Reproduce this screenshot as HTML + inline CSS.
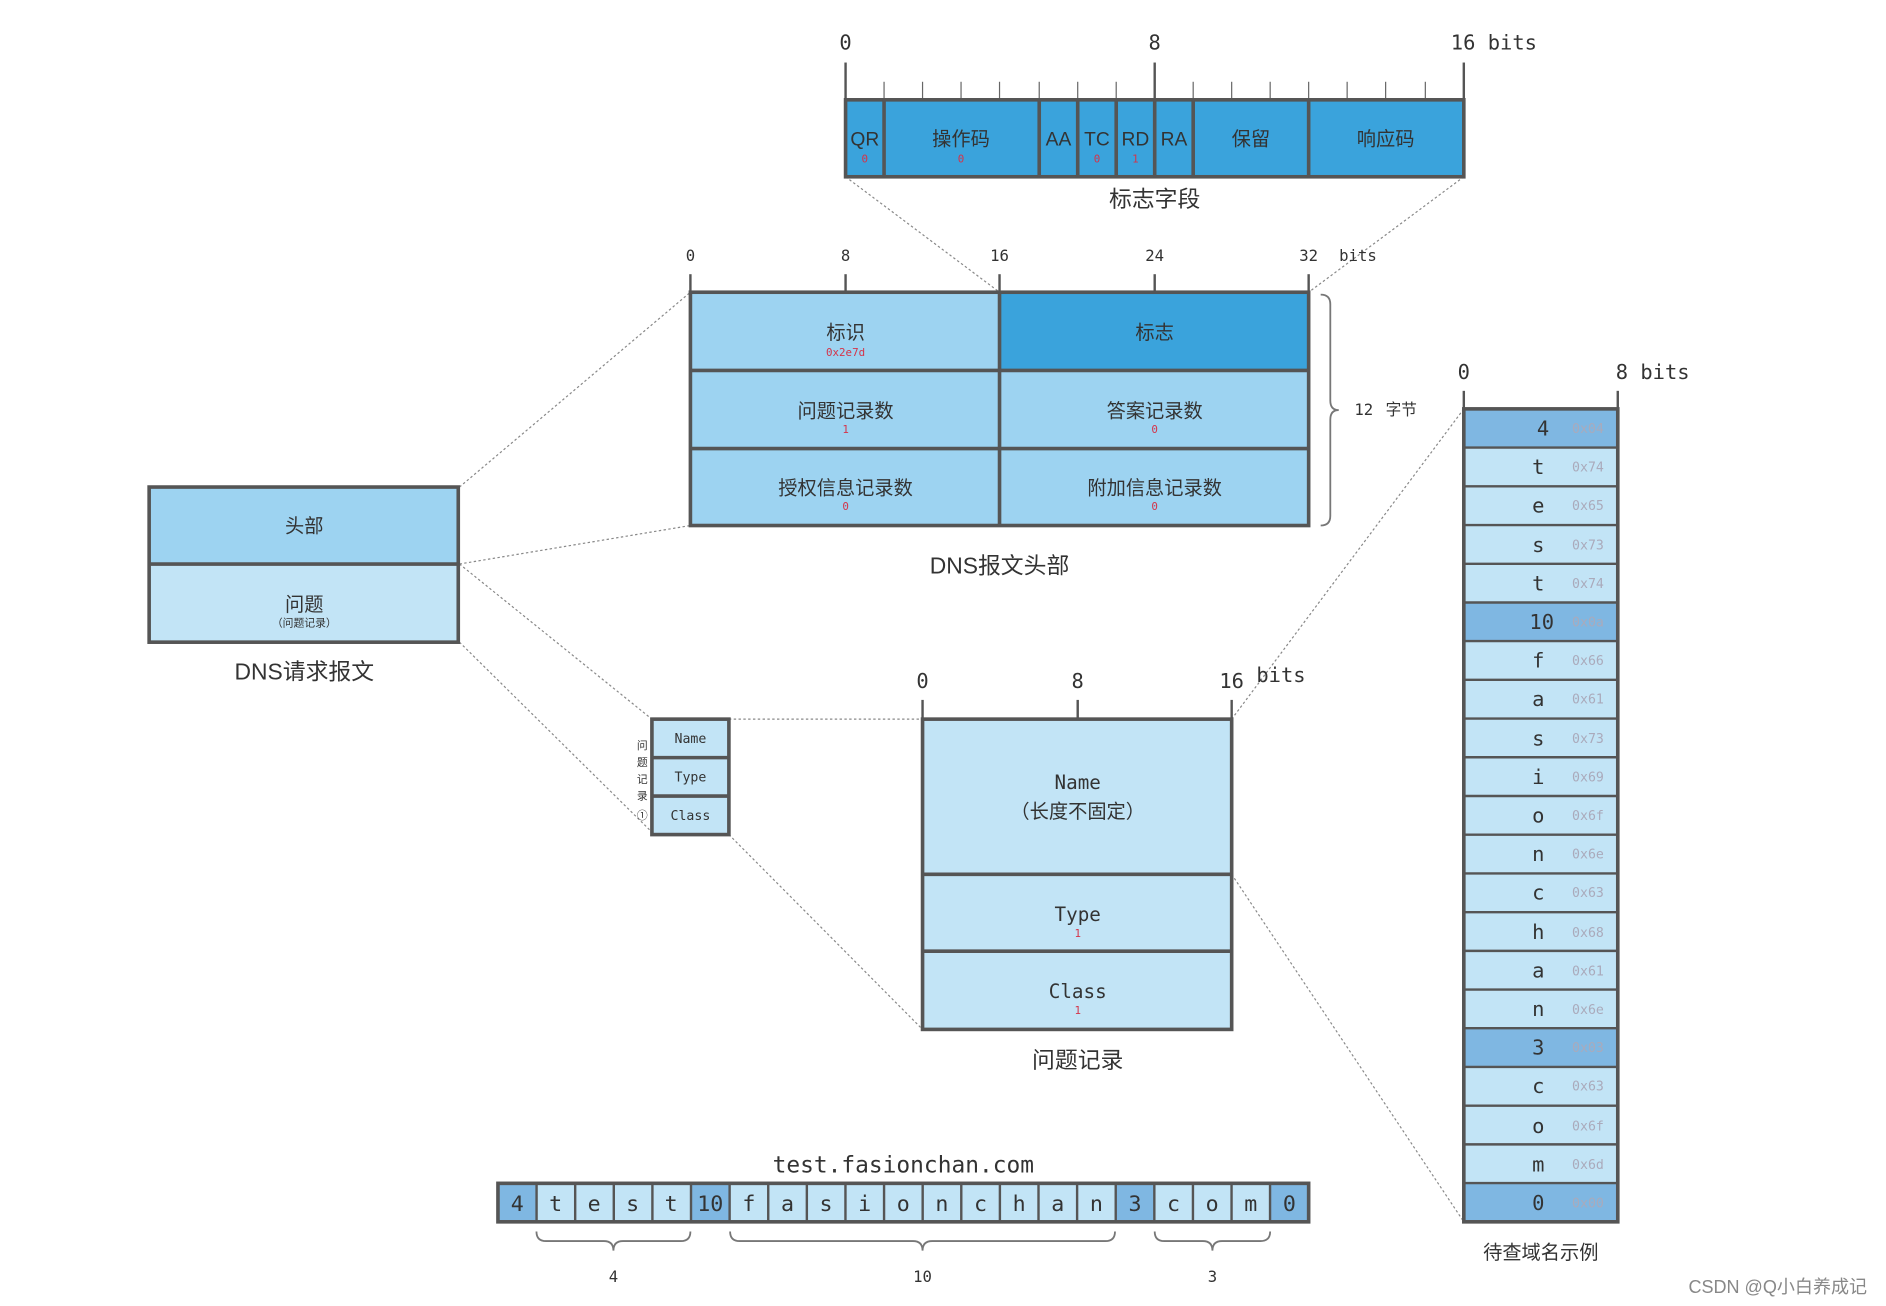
<!DOCTYPE html>
<html><head><meta charset="utf-8"><style>
html,body{margin:0;padding:0;background:#fff;}
svg{display:block;}
text{font-family:"DejaVu Sans Mono","Liberation Mono","Noto Sans CJK SC",monospace;fill:#333;}
.cj{font-family:"Liberation Sans","Noto Sans CJK SC",sans-serif;}
.red{fill:#d4344a;font-size:9px;}
.hx{fill:#aab;font-size:11px;}
.dot{stroke:#888;stroke-width:1;stroke-dasharray:2 2;fill:none;}
.bx{stroke:#555;stroke-width:3;}
.tk{stroke:#555;stroke-width:2;}
.st{stroke:#666;stroke-width:1;}
</style></head><body>
<svg width="1886" height="1306" viewBox="0 0 1568 1086" preserveAspectRatio="none" xmlns="http://www.w3.org/2000/svg">
<line class="dot" x1="703" y1="147" x2="831" y2="243"/>
<line class="dot" x1="1217" y1="147" x2="1088" y2="243"/>
<line class="dot" x1="382" y1="405" x2="574" y2="243"/>
<line class="dot" x1="382" y1="469" x2="574" y2="437"/>
<line class="dot" x1="382" y1="469" x2="542" y2="598"/>
<line class="dot" x1="382" y1="534" x2="540" y2="690"/>
<line class="dot" x1="606" y1="598" x2="767" y2="598"/>
<line class="dot" x1="606" y1="694" x2="767" y2="856"/>
<line class="dot" x1="1024" y1="598" x2="1217" y2="340"/>
<line class="dot" x1="1024" y1="727" x2="1217" y2="1016"/>

<g font-size="17" text-anchor="middle">
<text x="703" y="41">0</text><text x="960" y="41">8</text><text x="1242" y="41">16 bits</text>
</g>
<line class="tk" x1="703" y1="52" x2="703" y2="83"/><line class="tk" x1="960" y1="52" x2="960" y2="83"/><line class="tk" x1="1217" y1="52" x2="1217" y2="83"/>
<g class="st">
<line x1="735" y1="68" x2="735" y2="83"/><line x1="767" y1="68" x2="767" y2="83"/><line x1="799" y1="68" x2="799" y2="83"/><line x1="831" y1="68" x2="831" y2="83"/><line x1="864" y1="68" x2="864" y2="83"/><line x1="896" y1="68" x2="896" y2="83"/><line x1="928" y1="68" x2="928" y2="83"/><line x1="992" y1="68" x2="992" y2="83"/><line x1="1024" y1="68" x2="1024" y2="83"/><line x1="1056" y1="68" x2="1056" y2="83"/><line x1="1088" y1="68" x2="1088" y2="83"/><line x1="1120" y1="68" x2="1120" y2="83"/><line x1="1152" y1="68" x2="1152" y2="83"/><line x1="1185" y1="68" x2="1185" y2="83"/>
</g>
<rect class="bx" x="703" y="83" width="514" height="64" fill="#3aa3dc"/>
<g class="bx"><line x1="735" y1="83" x2="735" y2="147"/><line x1="864" y1="83" x2="864" y2="147"/><line x1="896" y1="83" x2="896" y2="147"/><line x1="928" y1="83" x2="928" y2="147"/><line x1="960" y1="83" x2="960" y2="147"/><line x1="992" y1="83" x2="992" y2="147"/><line x1="1088" y1="83" x2="1088" y2="147"/></g>
<g class="cj" font-size="16" text-anchor="middle">
<text class="cj" x="719" y="121">QR</text><text class="cj" x="799" y="121">操作码</text><text class="cj" x="880" y="121">AA</text><text class="cj" x="912" y="121">TC</text><text class="cj" x="944" y="121">RD</text><text class="cj" x="976" y="121">RA</text><text class="cj" x="1040" y="121">保留</text><text class="cj" x="1152" y="121">响应码</text>
<text class="cj" x="960" y="172" font-size="19">标志字段</text>
</g>
<g text-anchor="middle"><text class="red" x="719" y="135">0</text><text class="red" x="799" y="135">0</text><text class="red" x="912" y="135">0</text><text class="red" x="944" y="135">1</text></g>

<g font-size="13" text-anchor="middle">
<text x="574" y="217">0</text><text x="703" y="217">8</text><text x="831" y="217">16</text><text x="960" y="217">24</text><text x="1088" y="217">32</text><text x="1129" y="217">bits</text>
</g>
<g class="tk"><line x1="574" y1="228" x2="574" y2="243"/><line x1="703" y1="228" x2="703" y2="243"/><line x1="831" y1="228" x2="831" y2="243"/><line x1="960" y1="228" x2="960" y2="243"/><line x1="1088" y1="228" x2="1088" y2="243"/></g>
<rect x="574" y="243" width="514" height="194" fill="#9dd3f1"/>
<rect x="831" y="243" width="257" height="65" fill="#3aa3dc"/>
<g class="bx" fill="none"><rect x="574" y="243" width="514" height="194"/><line x1="574" y1="308" x2="1088" y2="308"/><line x1="574" y1="373" x2="1088" y2="373"/><line x1="831" y1="243" x2="831" y2="437"/></g>
<g font-size="16" text-anchor="middle">
<text class="cj" x="703" y="282">标识</text><text class="cj" x="960" y="282">标志</text>
<text class="cj" x="703" y="347">问题记录数</text><text class="cj" x="960" y="347">答案记录数</text>
<text class="cj" x="703" y="411">授权信息记录数</text><text class="cj" x="960" y="411">附加信息记录数</text>
<text class="cj" x="831" y="477" font-size="19">DNS报文头部</text>
</g>
<g text-anchor="middle"><text class="red" x="703" y="296">0x2e7d</text><text class="red" x="703" y="360">1</text><text class="red" x="960" y="360">0</text><text class="red" x="703" y="424">0</text><text class="red" x="960" y="424">0</text></g>
<path d="M1098 245 Q1106 245 1106 253 L1106 333 Q1106 341 1113 341 Q1106 341 1106 349 L1106 429 Q1106 437 1098 437" fill="none" stroke="#777" stroke-width="1.5"/>
<text x="1126" y="345" font-size="13">12</text><text class="cj" x="1152" y="345" font-size="13">字节</text>

<rect x="124" y="405" width="257" height="64" fill="#9dd3f1"/>
<rect x="124" y="469" width="257" height="65" fill="#c2e4f6"/>
<g class="bx" fill="none"><rect x="124" y="405" width="257" height="129"/><line x1="124" y1="469" x2="381" y2="469"/></g>
<g text-anchor="middle"><text class="cj" x="253" y="443" font-size="16">头部</text><text class="cj" x="253" y="508" font-size="16">问题</text><text class="cj" x="253" y="521" font-size="9">（问题记录）</text><text class="cj" x="253" y="565" font-size="19">DNS请求报文</text></g>

<rect x="542" y="598" width="64" height="96" fill="#c2e4f6"/>
<g class="bx" fill="none" stroke-width="2.5"><rect x="542" y="598" width="64" height="96"/><line x1="542" y1="630" x2="606" y2="630"/><line x1="542" y1="662" x2="606" y2="662"/></g>
<g font-size="11" text-anchor="middle"><text x="574" y="618">Name</text><text x="574" y="650">Type</text><text x="574" y="682">Class</text></g>
<g font-size="9" text-anchor="middle"><text class="cj" x="534" y="623">问</text><text class="cj" x="534" y="637">题</text><text class="cj" x="534" y="651">记</text><text class="cj" x="534" y="665">录</text><text class="cj" x="534" y="681">①</text></g>

<g font-size="17" text-anchor="middle"><text x="767" y="572">0</text><text x="896" y="572">8</text><text x="1024" y="572">16</text><text x="1065" y="567">bits</text></g>
<g class="tk"><line x1="767" y1="582" x2="767" y2="598"/><line x1="896" y1="582" x2="896" y2="598"/><line x1="1024" y1="582" x2="1024" y2="598"/></g>
<rect x="767" y="598" width="257" height="258" fill="#c2e4f6"/>
<g class="bx" fill="none"><rect x="767" y="598" width="257" height="258"/><line x1="767" y1="727" x2="1024" y2="727"/><line x1="767" y1="791" x2="1024" y2="791"/></g>
<g font-size="16" text-anchor="middle"><text x="896" y="656">Name</text><text class="cj" x="896" y="680">（长度不固定）</text><text x="896" y="766">Type</text><text x="896" y="830">Class</text><text class="cj" x="896" y="888" font-size="19">问题记录</text></g>
<g text-anchor="middle"><text class="red" x="896" y="779">1</text><text class="red" x="896" y="843">1</text></g>

<g font-size="17" text-anchor="middle"><text x="1217" y="315">0</text><text x="1374" y="315">8 bits</text></g>
<g class="tk"><line x1="1217" y1="325" x2="1217" y2="340"/><line x1="1345" y1="325" x2="1345" y2="340"/></g>
<rect x="1217" y="340" width="128" height="676" fill="#c2e4f6"/>
<g fill="#7fb7e2"><rect x="1217" y="340" width="128" height="32.2"/><rect x="1217" y="501" width="128" height="32.2"/><rect x="1217" y="855" width="128" height="32.2"/><rect x="1217" y="983.8" width="128" height="32.2"/></g>
<g stroke="#555" stroke-width="2"><line x1="1217" y1="372.2" x2="1345" y2="372.2"/><line x1="1217" y1="404.4" x2="1345" y2="404.4"/><line x1="1217" y1="436.6" x2="1345" y2="436.6"/><line x1="1217" y1="468.8" x2="1345" y2="468.8"/><line x1="1217" y1="501" x2="1345" y2="501"/><line x1="1217" y1="533.1" x2="1345" y2="533.1"/><line x1="1217" y1="565.3" x2="1345" y2="565.3"/><line x1="1217" y1="597.5" x2="1345" y2="597.5"/><line x1="1217" y1="629.7" x2="1345" y2="629.7"/><line x1="1217" y1="661.9" x2="1345" y2="661.9"/><line x1="1217" y1="694.1" x2="1345" y2="694.1"/><line x1="1217" y1="726.3" x2="1345" y2="726.3"/><line x1="1217" y1="758.5" x2="1345" y2="758.5"/><line x1="1217" y1="790.7" x2="1345" y2="790.7"/><line x1="1217" y1="822.9" x2="1345" y2="822.9"/><line x1="1217" y1="855" x2="1345" y2="855"/><line x1="1217" y1="887.2" x2="1345" y2="887.2"/><line x1="1217" y1="919.4" x2="1345" y2="919.4"/><line x1="1217" y1="951.6" x2="1345" y2="951.6"/><line x1="1217" y1="983.8" x2="1345" y2="983.8"/></g>
<rect class="bx" x="1217" y="340" width="128" height="676" fill="none"/>
<g font-size="17" text-anchor="end">
<text x="1288" y="362">4</text><text x="1284" y="394">t</text><text x="1284" y="426">e</text><text x="1284" y="459">s</text><text x="1284" y="491">t</text><text x="1292" y="523">10</text><text x="1284" y="555">f</text><text x="1284" y="587">a</text><text x="1284" y="620">s</text><text x="1284" y="652">i</text><text x="1284" y="684">o</text><text x="1284" y="716">n</text><text x="1284" y="748">c</text><text x="1284" y="781">h</text><text x="1284" y="813">a</text><text x="1284" y="845">n</text><text x="1284" y="877">3</text><text x="1284" y="909">c</text><text x="1284" y="942">o</text><text x="1284" y="974">m</text><text x="1284" y="1006">0</text>
</g>
<g class="hx">
<text class="hx" x="1307" y="360">0x04</text><text class="hx" x="1307" y="392">0x74</text><text class="hx" x="1307" y="424">0x65</text><text class="hx" x="1307" y="457">0x73</text><text class="hx" x="1307" y="489">0x74</text><text class="hx" x="1307" y="521">0x0a</text><text class="hx" x="1307" y="553">0x66</text><text class="hx" x="1307" y="585">0x61</text><text class="hx" x="1307" y="618">0x73</text><text class="hx" x="1307" y="650">0x69</text><text class="hx" x="1307" y="682">0x6f</text><text class="hx" x="1307" y="714">0x6e</text><text class="hx" x="1307" y="746">0x63</text><text class="hx" x="1307" y="779">0x68</text><text class="hx" x="1307" y="811">0x61</text><text class="hx" x="1307" y="843">0x6e</text><text class="hx" x="1307" y="875">0x03</text><text class="hx" x="1307" y="907">0x63</text><text class="hx" x="1307" y="940">0x6f</text><text class="hx" x="1307" y="972">0x6d</text><text class="hx" x="1307" y="1004">0x00</text>
</g>
<text class="cj" x="1281" y="1047" font-size="16" text-anchor="middle">待查域名示例</text>

<text x="751" y="975" font-size="19" text-anchor="middle">test.fasionchan.com</text>
<rect x="414" y="984" width="674" height="32" fill="#c2e4f6"/>
<g fill="#7fb7e2"><rect x="414" y="984" width="32.1" height="32"/><rect x="574.5" y="984" width="32.1" height="32"/><rect x="927.6" y="984" width="32.1" height="32"/><rect x="1055.9" y="984" width="32.1" height="32"/></g>
<g stroke="#555" stroke-width="2"><line x1="446.1" y1="984" x2="446.1" y2="1016"/><line x1="478.2" y1="984" x2="478.2" y2="1016"/><line x1="510.3" y1="984" x2="510.3" y2="1016"/><line x1="542.4" y1="984" x2="542.4" y2="1016"/><line x1="574.5" y1="984" x2="574.5" y2="1016"/><line x1="606.6" y1="984" x2="606.6" y2="1016"/><line x1="638.7" y1="984" x2="638.7" y2="1016"/><line x1="670.8" y1="984" x2="670.8" y2="1016"/><line x1="702.9" y1="984" x2="702.9" y2="1016"/><line x1="735" y1="984" x2="735" y2="1016"/><line x1="767.1" y1="984" x2="767.1" y2="1016"/><line x1="799.2" y1="984" x2="799.2" y2="1016"/><line x1="831.3" y1="984" x2="831.3" y2="1016"/><line x1="863.4" y1="984" x2="863.4" y2="1016"/><line x1="895.5" y1="984" x2="895.5" y2="1016"/><line x1="927.6" y1="984" x2="927.6" y2="1016"/><line x1="959.7" y1="984" x2="959.7" y2="1016"/><line x1="991.8" y1="984" x2="991.8" y2="1016"/><line x1="1023.9" y1="984" x2="1023.9" y2="1016"/><line x1="1055.9" y1="984" x2="1055.9" y2="1016"/></g>
<rect class="bx" x="414" y="984" width="674" height="32" fill="none"/>
<g font-size="18" text-anchor="middle">
<text x="430" y="1007">4</text><text x="462" y="1007">t</text><text x="494" y="1007">e</text><text x="526" y="1007">s</text><text x="558" y="1007">t</text><text x="590.5" y="1007">10</text><text x="622.6" y="1007">f</text><text x="654.7" y="1007">a</text><text x="686.8" y="1007">s</text><text x="718.9" y="1007">i</text><text x="751" y="1007">o</text><text x="783.1" y="1007">n</text><text x="815.2" y="1007">c</text><text x="847.3" y="1007">h</text><text x="879.4" y="1007">a</text><text x="911.5" y="1007">n</text><text x="943.6" y="1007">3</text><text x="975.7" y="1007">c</text><text x="1007.8" y="1007">o</text><text x="1039.9" y="1007">m</text><text x="1072" y="1007">0</text>
</g>
<g fill="none" stroke="#777" stroke-width="1.5">
<path d="M446 1024 Q446 1032 454 1032 L502 1032 Q510 1032 510 1040 Q510 1032 518 1032 L566 1032 Q574 1032 574 1024"/>
<path d="M607 1024 Q607 1032 615 1032 L759 1032 Q767 1032 767 1040 Q767 1032 775 1032 L919 1032 Q927 1032 927 1024"/>
<path d="M960 1024 Q960 1032 968 1032 L1000 1032 Q1008 1032 1008 1040 Q1008 1032 1016 1032 L1048 1032 Q1056 1032 1056 1024"/>
</g>
<g font-size="13" text-anchor="middle"><text x="510" y="1066">4</text><text x="767" y="1066">10</text><text x="1008" y="1066">3</text></g>

<text class="cj" x="1478" y="1075" font-size="15" text-anchor="middle" style="fill:#888">CSDN @Q小白养成记</text>
</svg>
</body></html>
